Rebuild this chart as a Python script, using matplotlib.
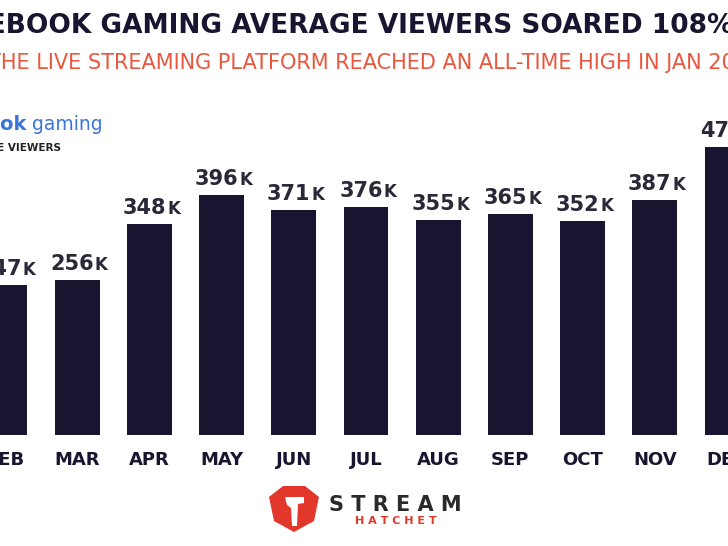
import matplotlib.pyplot as plt
from matplotlib.patches import Polygon

# Facebook Gaming average live viewers (thousands), visible months
months = ["FEB", "MAR", "APR", "MAY", "JUN", "JUL", "AUG", "SEP", "OCT", "NOV", "DEC"]
viewers = [247, 256, 348, 396, 371, 376, 355, 365, 352, 387, 474]

NAVY = "#191530"
ORANGE = "#e9573f"
BLUE = "#3a74d9"
RED = "#e2372b"
FONT = "DejaVu Sans"

W, H = 728, 546
fig = plt.figure(figsize=(W / 100, H / 100), dpi=100)
fig.patch.set_facecolor("white")

# axes fill whole figure, the chart is cropped on both sides
ax = fig.add_axes([0, 0, 1, 1])
ax.set_xlim(-0.069, 10.014)
ax.set_ylim(-183, 717)
ax.axis("off")

x = list(range(len(months)))
bars = ax.bar(x, viewers, width=0.62, color=NAVY)

for xi, v, m in zip(x, viewers, months):
    num = ax.annotate(str(v), (xi, v), xytext=(-5, 6), textcoords="offset pixels",
                      ha="center", va="bottom", fontsize=15, fontweight="bold",
                      color="#2b2838", family=FONT)
    ax.annotate("K", xy=(1, 0), xycoords=num, xytext=(1, 0), textcoords="offset pixels",
                ha="left", va="bottom", fontsize=12, fontweight="bold",
                color="#2b2838", family=FONT)
    ax.annotate(m, (xi, 0), xytext=(0, -16), textcoords="offset pixels",
                ha="center", va="top", fontsize=13, fontweight="bold",
                color=NAVY, family=FONT)

# title and subtitle (cropped)
fig.text(333 / W, 1 - 26 / H, "FACEBOOK GAMING AVERAGE VIEWERS SOARED 108%",
         ha="center", va="center", fontsize=19, fontweight="bold", color=NAVY, family=FONT)
fig.text(375 / W, 1 - 63 / H, "THE LIVE STREAMING PLATFORM REACHED AN ALL-TIME HIGH IN JAN 2021",
         ha="center", va="center", fontsize=15, color=ORANGE, family=FONT)

# facebook gaming logo, top left
fig.text(27 / W, 1 - 125 / H, "facebook", ha="right", va="center", fontsize=14,
         fontweight="bold", color=BLUE, family=FONT)
fig.text(32 / W, 1 - 125 / H, "gaming", ha="left", va="center", fontsize=13.5,
         color=BLUE, family=FONT)
fig.text(61 / W, 1 - 148 / H, "AVERAGE LIVE VIEWERS", ha="right", va="center", fontsize=7.5,
         fontweight="bold", color="#222222", family=FONT)

# stream hatchet logo
shield = [(283, 486), (305, 486), (319, 497), (314, 521), (294, 532), (274, 521), (269, 497)]
fig.patches.append(Polygon([(px / W, 1 - py / H) for px, py in shield], closed=True,
                           transform=fig.transFigure, facecolor=RED, edgecolor="none"))
hatchet = [(285, 497), (304, 497), (304, 503), (298, 504), (297, 526), (292, 526),
           (291, 508), (287, 505)]
fig.patches.append(Polygon([(px / W, 1 - py / H) for px, py in hatchet], closed=True,
                           transform=fig.transFigure, facecolor="white", edgecolor="none"))
fig.text(395 / W, 1 - 505 / H, "S T R E A M", ha="center", va="center", fontsize=15,
         fontweight="bold", color="#2a2a2e", family=FONT)
fig.text(396 / W, 1 - 521 / H, "H A T C H E T", ha="center", va="center", fontsize=8,
         fontweight="bold", color=RED, family=FONT)

plt.savefig("out.png", dpi=100)
